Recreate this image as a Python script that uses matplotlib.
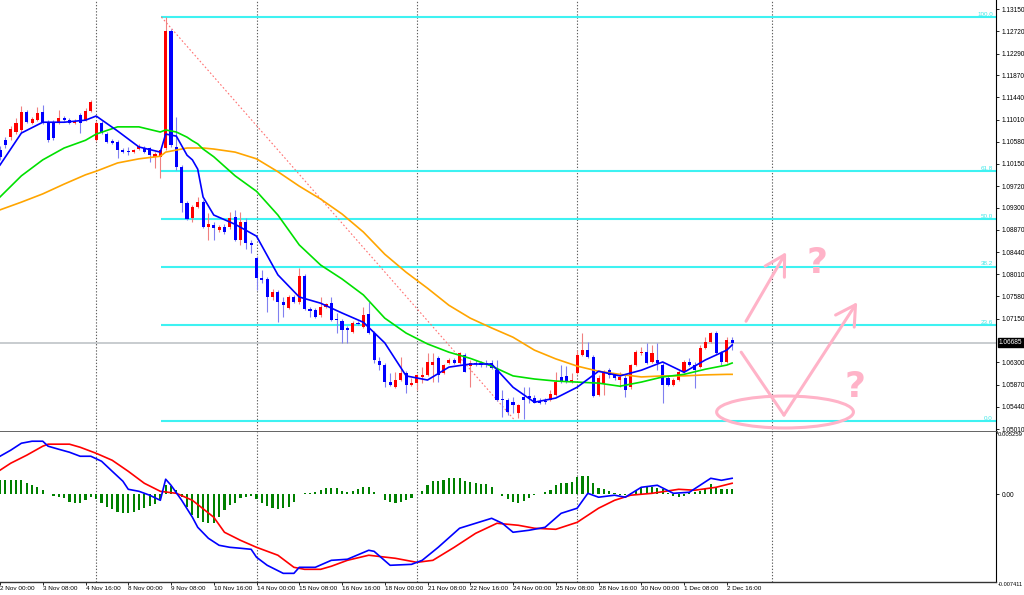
import matplotlib
matplotlib.use('Agg')
import matplotlib.pyplot as plt
import matplotlib.transforms as mtrans
from matplotlib.patches import Ellipse
import numpy as np

plt.rcParams['font.family'] = ['Liberation Sans', 'DejaVu Sans']

# ---------------- data ----------------
date_labels = ["2 Nov 00:00", "3 Nov 08:00", "4 Nov 16:00", "8 Nov 00:00", "9 Nov 08:00",
               "10 Nov 16:00", "14 Nov 00:00", "15 Nov 08:00", "16 Nov 16:00", "18 Nov 00:00",
               "21 Nov 08:00", "22 Nov 16:00", "24 Nov 00:00", "25 Nov 08:00", "28 Nov 16:00",
               "30 Nov 00:00", "1 Dec 08:00", "2 Dec 16:00"]
date_label_bars = list(range(0, 137, 8))

opens = [1.1042, 1.1061, 1.1067, 1.1077, 1.1081, 1.1116, 1.1094, 1.1100, 1.1116, 1.1096,
         1.1096, 1.1096, 1.1104, 1.1100, 1.1094, 1.1110, 1.1100, 1.1118, 1.1061, 1.1094,
         1.1073, 1.1059, 1.1058, 1.1042, 1.1040, 1.1038, 1.1044, 1.1046, 1.1046, 1.1029,
         1.1029, 1.1046, 1.1273, 1.1048, 1.1009, 1.0939, 1.0910, 1.0931, 1.0941, 1.0893,
         1.0897, 1.0887, 1.0893, 1.0893, 1.0912, 1.0867, 1.0902, 1.0862, 1.0833, 1.0794,
         1.0792, 1.0757, 1.0767, 1.0747, 1.0735, 1.0757, 1.0747, 1.0798, 1.0734, 1.0732,
         1.0722, 1.0738, 1.0745, 1.0714, 1.0710, 1.0697, 1.0689, 1.0706, 1.0699, 1.0724,
         1.0687, 1.0633, 1.0625, 1.0592, 1.0582, 1.0596, 1.0609, 1.0586, 1.0590, 1.0602,
         1.0605, 1.0625, 1.0638, 1.0609, 1.0629, 1.0635, 1.0629, 1.0644, 1.0623, 1.0629,
         1.0629, 1.0629, 1.0629, 1.0615, 1.0559, 1.0557, 1.0553, 1.0532, 1.0563, 1.0565,
         1.0561, 1.0555, 1.0555, 1.0557, 1.0567, 1.0602, 1.0604, 1.0592, 1.0609, 1.0644,
         1.0654, 1.0640, 1.0567, 1.0590, 1.0615, 1.0606, 1.0596, 1.0600, 1.0582, 1.0625,
         1.0648, 1.0650, 1.0631, 1.0635, 1.0625, 1.0600, 1.0586, 1.0596, 1.0611, 1.0631,
         1.0625, 1.0621, 1.0658, 1.0669, 1.0687, 1.0648, 1.0631, 1.0673]
highs = [1.1050, 1.1067, 1.1089, 1.1104, 1.1127, 1.1120, 1.1106, 1.1125, 1.1129, 1.1100,
         1.1100, 1.1120, 1.1108, 1.1104, 1.1102, 1.1114, 1.1123, 1.1139, 1.1098, 1.1098,
         1.1077, 1.1063, 1.1061, 1.1046, 1.1048, 1.1044, 1.1054, 1.1050, 1.1048, 1.1038,
         1.1042, 1.1300, 1.1277, 1.1106, 1.1013, 1.0943, 1.0935, 1.0951, 1.0945, 1.0920,
         1.0902, 1.0897, 1.0898, 1.0922, 1.0926, 1.0922, 1.0910, 1.0867, 1.0837, 1.0809,
         1.0796, 1.0772, 1.0770, 1.0757, 1.0761, 1.0761, 1.0813, 1.0802, 1.0738, 1.0735,
         1.0757, 1.0745, 1.0757, 1.0726, 1.0714, 1.0701, 1.0710, 1.0710, 1.0738, 1.0747,
         1.0691, 1.0640, 1.0629, 1.0609, 1.0611, 1.0640, 1.0613, 1.0600, 1.0607, 1.0621,
         1.0648, 1.0648, 1.0642, 1.0627, 1.0638, 1.0638, 1.0650, 1.0648, 1.0635, 1.0635,
         1.0633, 1.0635, 1.0635, 1.0635, 1.0576, 1.0561, 1.0563, 1.0549, 1.0582, 1.0582,
         1.0567, 1.0561, 1.0561, 1.0576, 1.0611, 1.0625, 1.0623, 1.0609, 1.0654, 1.0687,
         1.0669, 1.0644, 1.0606, 1.0615, 1.0619, 1.0609, 1.0611, 1.0606, 1.0627, 1.0654,
         1.0660, 1.0667, 1.0664, 1.0667, 1.0629, 1.0604, 1.0600, 1.0615, 1.0635, 1.0638,
         1.0631, 1.0664, 1.0679, 1.0689, 1.0691, 1.0652, 1.0679, 1.0679]
lows = [1.1023, 1.1046, 1.1061, 1.1073, 1.1077, 1.1094, 1.1092, 1.1098, 1.1092, 1.1058,
        1.1061, 1.1092, 1.1098, 1.1092, 1.1092, 1.1075, 1.1098, 1.1116, 1.1059, 1.1073,
        1.1056, 1.1054, 1.1027, 1.1036, 1.1032, 1.1036, 1.1042, 1.1036, 1.1019, 1.1007,
        1.0988, 1.1042, 1.1048, 1.1003, 1.0922, 1.0906, 1.0902, 1.0929, 1.0891, 1.0867,
        1.0867, 1.0883, 1.0879, 1.0889, 1.0865, 1.0858, 1.0850, 1.0842, 1.0770, 1.0784,
        1.0728, 1.0751, 1.0708, 1.0718, 1.0734, 1.0745, 1.0743, 1.0732, 1.0718, 1.0716,
        1.0718, 1.0735, 1.0710, 1.0687, 1.0668, 1.0668, 1.0687, 1.0702, 1.0697, 1.0685,
        1.0629, 1.0615, 1.0582, 1.0584, 1.0580, 1.0594, 1.0571, 1.0584, 1.0576, 1.0590,
        1.0604, 1.0592, 1.0592, 1.0607, 1.0627, 1.0627, 1.0627, 1.0611, 1.0582, 1.0623,
        1.0621, 1.0621, 1.0617, 1.0555, 1.0524, 1.0528, 1.0532, 1.0522, 1.0520, 1.0551,
        1.0551, 1.0549, 1.0549, 1.0555, 1.0565, 1.0590, 1.0590, 1.0590, 1.0607, 1.0642,
        1.0638, 1.0563, 1.0565, 1.0567, 1.0600, 1.0596, 1.0582, 1.0563, 1.0578, 1.0623,
        1.0644, 1.0627, 1.0629, 1.0615, 1.0551, 1.0584, 1.0584, 1.0594, 1.0609, 1.0623,
        1.0580, 1.0619, 1.0656, 1.0668, 1.0646, 1.0625, 1.0629, 1.0654]
closes = [1.1029, 1.1052, 1.1083, 1.1094, 1.1116, 1.1096, 1.1102, 1.1114, 1.1096, 1.1061,
          1.1065, 1.1104, 1.1100, 1.1094, 1.1098, 1.1094, 1.1118, 1.1135, 1.1094, 1.1075,
          1.1058, 1.1056, 1.1042, 1.1038, 1.1038, 1.1042, 1.1050, 1.1038, 1.1032, 1.1034,
          1.1042, 1.1273, 1.1052, 1.1009, 1.0939, 1.0908, 1.0931, 1.0941, 1.0893, 1.0898,
          1.0891, 1.0893, 1.0883, 1.0910, 1.0867, 1.0902, 1.0862, 1.0858, 1.0794, 1.0790,
          1.0757, 1.0767, 1.0747, 1.0741, 1.0757, 1.0747, 1.0798, 1.0734, 1.0730, 1.0718,
          1.0738, 1.0743, 1.0712, 1.0712, 1.0693, 1.0693, 1.0706, 1.0704, 1.0722, 1.0687,
          1.0635, 1.0625, 1.0592, 1.0586, 1.0596, 1.0609, 1.0586, 1.0590, 1.0605, 1.0605,
          1.0631, 1.0631, 1.0605, 1.0625, 1.0635, 1.0629, 1.0648, 1.0611, 1.0629, 1.0627,
          1.0625, 1.0627, 1.0619, 1.0557, 1.0557, 1.0534, 1.0547, 1.0547, 1.0557, 1.0561,
          1.0551, 1.0551, 1.0553, 1.0569, 1.0592, 1.0592, 1.0592, 1.0596, 1.0644, 1.0654,
          1.0640, 1.0565, 1.0600, 1.0611, 1.0606, 1.0600, 1.0602, 1.0576, 1.0625, 1.0650,
          1.0650, 1.0629, 1.0648, 1.0629, 1.0586, 1.0586, 1.0596, 1.0611, 1.0631, 1.0625,
          1.0615, 1.0658, 1.0669, 1.0687, 1.0648, 1.0631, 1.0673, 1.06685]

# moving averages, read at these bars
ma_bars = [0, 4, 8, 12, 16, 18, 22, 26, 30, 31, 33, 35, 36, 37, 38, 40, 44, 48, 52, 56,
           60, 64, 68, 72, 76, 80, 84, 88, 92, 96, 100, 104, 108, 112, 116, 120, 124, 128, 132, 136, 137]
ma_fast = [1.1013, 1.1075, 1.1096, 1.1096, 1.1100, 1.1108, 1.1079, 1.1048, 1.1038, 1.1073,
           1.1069, 1.1032, 1.1023, 1.1005, 1.0951, 1.0916, 1.0898, 1.0875, 1.0800, 1.0757,
           1.0745, 1.0726, 1.0708, 1.0668, 1.0604, 1.0596, 1.0621, 1.0627, 1.0627, 1.0582,
           1.0553, 1.0561, 1.0582, 1.0613, 1.0604, 1.0615, 1.0631, 1.0611, 1.0635, 1.0654, 1.0664]
ma_mid = [1.0951, 1.0992, 1.1023, 1.1046, 1.1061, 1.1073, 1.1087, 1.1087, 1.1077, 1.1081,
          1.1077, 1.1067, 1.1060, 1.1054, 1.1044, 1.1029, 1.0992, 1.0962, 1.0916, 1.0858,
          1.0819, 1.0792, 1.0761, 1.0716, 1.0687, 1.0666, 1.0650, 1.0638, 1.0623, 1.0604,
          1.0598, 1.0594, 1.0592, 1.0590, 1.0584, 1.0592, 1.0602, 1.0607, 1.0617, 1.0625, 1.0629]
ma_slow = [1.0926, 1.0941, 1.0957, 1.0976, 1.0994, 1.1001, 1.1017, 1.1025, 1.1030, 1.1038,
           1.1042, 1.1046, 1.1046, 1.1046, 1.1046, 1.1044, 1.1038, 1.1025, 1.1000, 1.0972,
           1.0947, 1.0918, 1.0883, 1.0840, 1.0805, 1.0774, 1.0741, 1.0716, 1.0697, 1.0679,
           1.0654, 1.0637, 1.0623, 1.0613, 1.0607, 1.0602, 1.0604, 1.0604, 1.0606, 1.0607, 1.0607]

# fibonacci retracement
fib_high, fib_low = 1.1300, 1.0517
fib_start_bar, fib_end_bar = 30.2, 96.4
fib_levels = [100.0, 61.8, 50.0, 38.2, 23.6, 0.0]
fib_names = ["100.0", "61.8", "50.0", "38.2", "23.6", "0.0"]

current_price = 1.06685
y_ticks = [1.13150, 1.12720, 1.12290, 1.11870, 1.11440, 1.11010, 1.10580, 1.10150, 1.09720,
           1.09300, 1.08870, 1.08440, 1.08010, 1.07580, 1.07150, 1.06300, 1.05870, 1.05440, 1.05010]
grid_bars = [18, 48, 78, 108, 144.4]

# MACD (values in units of 1e-4)
macd_bars = [0, 2, 4, 6, 8, 9, 11, 13, 15, 17, 19, 21, 23, 24, 26, 28, 30, 31, 32, 34,
             36, 37, 39, 41, 43, 45, 47, 48, 50, 53, 55, 56, 59, 62, 65, 69, 70, 73, 77, 79,
             82, 86, 89, 92, 94, 96, 99, 102, 105, 108, 110, 112, 115, 117, 120, 123, 126, 129, 133, 135, 137]
macd_e4 = [32.1, 37.2, 43.1, 44.8, 44.8, 40.6, 38.0, 35.5, 32.1, 32.1, 27.9, 19.4, 11.0, 4.2, 2.5,
           -0.8, -5.1, 12.7, 7.6, -5.1, -19.4, -27.9, -37.2, -43.1, -44.8, -45.6, -46.5, -53.2, -60.0,
           -66.8, -66.8, -61.7, -61.7, -55.8, -54.9, -47.3, -48.2, -60.0, -59.2, -55.8, -44.8, -28.7,
           -24.5, -20.3, -24.5, -32.1, -30.4, -27.9, -16.1, -11.8, 0.8, -2.5, -0.8, -2.5, 5.9, 7.6,
           0.8, 1.7, 13.5, 11.8, 13.5]
signal_bars = [0, 2, 5, 8, 9, 13, 15, 18, 21, 24, 27, 30, 33, 36, 40, 42, 45, 48, 52, 55, 57,
               60, 62, 65, 69, 74, 78, 81, 85, 89, 93, 97, 100, 104, 108, 112, 115, 118, 122, 127, 130, 134, 137]
signal_e4 = [20.3, 26.2, 33.0, 40.6, 42.3, 42.3, 39.7, 34.6, 28.7, 19.4, 9.3, 2.5, 0.8, -5.1,
             -19.4, -32.1, -38.9, -44.8, -51.5, -61.7, -63.4, -63.4, -60.8, -55.8, -51.5, -54.1,
             -57.5, -55.8, -44.8, -33.0, -24.5, -26.2, -28.7, -29.6, -23.7, -11.8, -5.1, -0.8, 0.8,
             4.2, 3.4, 5.9, 9.3]
hist_e4 = [12.1, 12.1, 12.1, 12.1, 12.1, 9.9, 7.9, 6.5, 3.6, 0.3,
           -1.4, -2.5, -3.4, -6.2, -7.0, -7.0, -4.8, -2.5, -4.2, -7.0,
           -10.4, -12.7, -14.6, -15.5, -15.5, -14.6, -13.3, -11.8, -9.9, -8.5,
           -4.8, 7.6, 6.8, 3.4, -1.9, -10.4, -17.5, -20.3, -23.1, -24.5,
           -23.9, -18.8, -13.3, -9.0, -7.6, -3.4, -2.5, -1.4, -4.2, -7.6,
           -9.9, -11.8, -12.7, -11.8, -10.4, -6.2, 0.0, 0.8, 1.4, 2.3,
           3.6, 5.1, 5.1, 5.1, 3.1, 2.3, 3.1, 4.2, 6.5, 5.9,
           2.3, 0.0, -4.8, -6.8, -7.0, -6.2, -4.8, -3.4, 0.0, 3.1,
           7.9, 11.2, 11.6, 12.1, 13.5, 13.5, 13.5, 11.6, 10.7, 9.3,
           8.7, 8.7, 5.9, 0.0, -1.4, -4.2, -6.2, -7.0, -5.3, -3.4,
           -0.6, 0.0, 1.7, 3.6, 7.9, 9.3, 9.9, 10.7, 15.0, 15.5,
           15.5, 9.3, 5.1, 4.2, 3.1, 0.8, -0.6, -0.6, 0.8, 3.1,
           5.1, 5.9, 6.5, 5.1, 4.2, 0.8, -1.4, -2.5, -1.4, 0.8,
           2.3, 3.1, 4.2, 8.7, 5.9, 4.2, 4.2, 4.2]
macd_max, macd_min = 0.005259, -0.007411

# hand-drawn annotations (bar, price)
arrow1 = [(139.6, 1.0710), (147.1, 1.0844)]
vpath = [(138.7, 1.0650), (146.7, 1.0528), (160.4, 1.0747)]
ellipse_c, ellipse_w, ellipse_h = (146.9, 1.0534), 25.6, 0.0062
qmarks = [(152.9, 1.0823), (160.0, 1.0582)]

# ---------------- figure ----------------
W, H = 1024, 595
fig = plt.figure(figsize=(W / 100, H / 100), dpi=100)
fig.patch.set_facecolor('white')
ax = fig.add_axes([0, 163 / H, 996 / W, 432 / H])
am = fig.add_axes([0, 13 / H, 996 / W, 150 / H])

xmax = 996 / 5.344
for a in (ax, am):
    a.set_xlim(0, xmax)
    a.set_facecolor('white')
    for s in ('top', 'left'):
        a.spines[s].set_visible(False)
    a.spines['right'].set_color('black')
    a.spines['right'].set_linewidth(0.8)
    for gb in grid_bars:
        a.axvline(gb, color='#606060', lw=0.8, ls=(0, (1.2, 1.6)), zorder=1)

ax.set_ylim(1.04952, 1.133304)
ax.spines['bottom'].set_color('#555555')
ax.spines['bottom'].set_linewidth(2.0)

# current price line
ax.axhline(current_price, color='#c4c8cc', lw=1.3, zorder=1)

# fibo
for lv, nm in zip(fib_levels, fib_names):
    p = fib_low + (fib_high - fib_low) * lv / 100.0
    ax.plot([fib_start_bar, xmax], [p, p], color='#3ef2f2', lw=1.5, zorder=2, solid_capstyle='butt')
    ax.text(xmax - 0.6, p + 0.00005, nm, ha='right', va='bottom', color='#3ee8e8', fontsize=4.5, zorder=3)
ax.plot([fib_start_bar, fib_end_bar], [fib_high, fib_low], color='#ff7070', lw=0.8,
        ls=(0, (1.5, 2.0)), zorder=2)

# candles
xb = np.arange(len(opens))
o, hh, ll, c = (np.array(v) for v in (opens, highs, lows, closes))
up = c >= o
ax.vlines(xb[up], ll[up], hh[up], color='#f08080', lw=0.8, zorder=3)
ax.vlines(xb[~up], ll[~up], hh[~up], color='#8080f0', lw=0.8, zorder=3)
bot = np.minimum(o, c)
hgt = np.maximum(np.abs(c - o), 0.00009)
ax.bar(xb[up], hgt[up], bottom=bot[up], width=0.58, color='#ff0000', lw=0, zorder=4)
ax.bar(xb[~up], hgt[~up], bottom=bot[~up], width=0.58, color='#0000ff', lw=0, zorder=4)

# moving averages
ax.plot(ma_bars, ma_slow, color='#ffa500', lw=1.2, zorder=5)
ax.plot(ma_bars, ma_mid, color='#00e000', lw=1.2, zorder=5)
ax.plot(ma_bars, ma_fast, color='#0000ff', lw=1.2, zorder=6)

# axis ticks
ax.yaxis.tick_right()
ax.set_yticks(y_ticks)
ax.set_yticklabels([f"{v:.5f}" for v in y_ticks])
ax.tick_params(axis='y', direction='out', length=2.5, width=0.6, pad=1.5, labelsize=4.7,
               colors='black')
ax.tick_params(axis='x', bottom=False, labelbottom=False)

blend = mtrans.blended_transform_factory(ax.transAxes, ax.transData)
ax.text(1.003, current_price, f"{current_price:.5f}", transform=blend, ha='left', va='center',
        color='white', fontsize=4.7, zorder=10, clip_on=False,
        bbox=dict(boxstyle='square,pad=0.18', fc='black', ec='black'))

# annotations
pink = '#ffb3c8'
ax.annotate('', xy=arrow1[1], xytext=arrow1[0],
            arrowprops=dict(arrowstyle='->,head_length=0.7,head_width=0.4', color=pink, lw=2.2,
                            mutation_scale=20, shrinkA=0, shrinkB=0), zorder=8)
ax.plot([vpath[0][0], vpath[1][0]], [vpath[0][1], vpath[1][1]], color=pink, lw=2.2,
        solid_capstyle='round', zorder=8)
ax.annotate('', xy=vpath[2], xytext=vpath[1],
            arrowprops=dict(arrowstyle='->,head_length=0.7,head_width=0.4', color=pink, lw=2.2,
                            mutation_scale=20, shrinkA=0, shrinkB=0), zorder=8)
ax.add_patch(Ellipse(ellipse_c, ellipse_w, ellipse_h, fill=False, ec=pink, lw=2.2, zorder=8))
for qx, qy in qmarks:
    ax.text(qx, qy, '?', ha='center', va='center', color=pink, fontsize=26,
            fontweight='bold', family='DejaVu Sans', zorder=8)

# MACD panel
am.set_ylim(macd_min, macd_max)
am.bar(np.arange(len(hist_e4)), np.array(hist_e4) * 1e-4, width=0.4, color='#008000', lw=0, zorder=3)
am.plot(signal_bars, np.array(signal_e4) * 1e-4, color='#ff0000', lw=1.2, zorder=4)
am.plot(macd_bars, np.array(macd_e4) * 1e-4, color='#0000ff', lw=1.2, zorder=5)
am.spines['bottom'].set_color('#333333')
am.spines['bottom'].set_linewidth(1.0)
am.yaxis.tick_right()
am.set_yticks([0.0])
am.set_yticklabels(['0.00'])
am.tick_params(axis='y', direction='out', length=2.5, width=0.6, pad=1.5, labelsize=4.7)
bl2 = mtrans.blended_transform_factory(am.transAxes, am.transData)
am.text(1.002, macd_max, f"{macd_max:.6f}", transform=bl2, ha='left', va='top', fontsize=4.3, clip_on=False)
am.annotate(f"{macd_min:.6f}", xy=(1.0015, macd_min), xycoords=bl2, xytext=(0, -2),
            textcoords='offset points', ha='left', va='center', fontsize=4.1, annotation_clip=False)

am.set_xticks(date_label_bars)
am.set_xticklabels(date_labels)
am.tick_params(axis='x', direction='out', length=2.5, width=0.6, pad=0.6, labelsize=4.6)
for lab in am.get_xticklabels():
    lab.set_ha('left')

fig.savefig('out.png', dpi=100, facecolor='white')
